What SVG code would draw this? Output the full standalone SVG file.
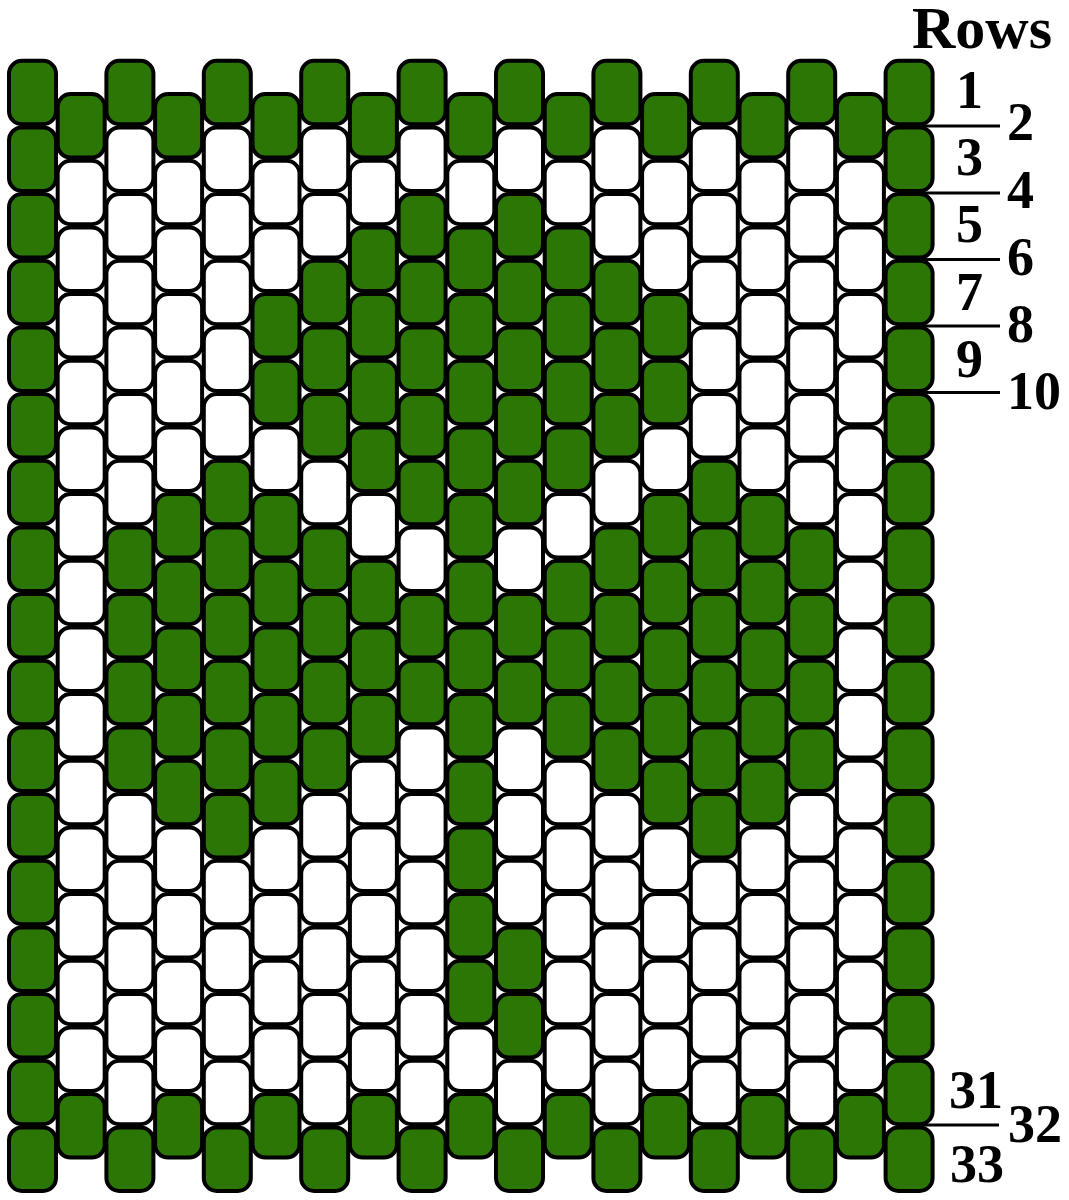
<svg xmlns="http://www.w3.org/2000/svg" xmlns:xlink="http://www.w3.org/1999/xlink" width="1069" height="1200" viewBox="0 0 1069 1200">
<style>
.g{fill:#2b7604}
.w{fill:#ffffff}
text{font-family:"Liberation Serif","Times New Roman",serif;font-weight:bold;fill:#000}
.lab{font-size:54px}
.ttl{font-size:60px}
.tick{stroke:#000;stroke-width:3}
</style>
<defs>
<rect id="bead" x="-23.5" y="-0.25" width="47" height="63.5" rx="13" ry="13" stroke="#000" stroke-width="4"/>
</defs>
<rect width="1069" height="1200" fill="#fff"/>
<g id="beads">
<g id="col0" transform="translate(32.5,0)">
<use href="#bead" y="61" class="g"/><use href="#bead" y="127.67" class="g"/><use href="#bead" y="194.33" class="g"/><use href="#bead" y="261" class="g"/><use href="#bead" y="327.67" class="g"/><use href="#bead" y="394.33" class="g"/><use href="#bead" y="461" class="g"/><use href="#bead" y="527.67" class="g"/><use href="#bead" y="594.33" class="g"/><use href="#bead" y="661" class="g"/><use href="#bead" y="727.67" class="g"/><use href="#bead" y="794.33" class="g"/><use href="#bead" y="861" class="g"/><use href="#bead" y="927.67" class="g"/><use href="#bead" y="994.33" class="g"/><use href="#bead" y="1061" class="g"/><use href="#bead" y="1127.67" class="g"/>
</g>
<g id="col1" transform="translate(81.2,0)">
<use href="#bead" y="94.33" class="g"/><use href="#bead" y="161" class="w"/><use href="#bead" y="227.67" class="w"/><use href="#bead" y="294.33" class="w"/><use href="#bead" y="361" class="w"/><use href="#bead" y="427.67" class="w"/><use href="#bead" y="494.33" class="w"/><use href="#bead" y="561" class="w"/><use href="#bead" y="627.67" class="w"/><use href="#bead" y="694.33" class="w"/><use href="#bead" y="761" class="w"/><use href="#bead" y="827.67" class="w"/><use href="#bead" y="894.33" class="w"/><use href="#bead" y="961" class="w"/><use href="#bead" y="1027.67" class="w"/><use href="#bead" y="1094.33" class="g"/>
</g>
<g id="col2" transform="translate(129.9,0)">
<use href="#bead" y="61" class="g"/><use href="#bead" y="127.67" class="w"/><use href="#bead" y="194.33" class="w"/><use href="#bead" y="261" class="w"/><use href="#bead" y="327.67" class="w"/><use href="#bead" y="394.33" class="w"/><use href="#bead" y="461" class="w"/><use href="#bead" y="527.67" class="g"/><use href="#bead" y="594.33" class="g"/><use href="#bead" y="661" class="g"/><use href="#bead" y="727.67" class="g"/><use href="#bead" y="794.33" class="w"/><use href="#bead" y="861" class="w"/><use href="#bead" y="927.67" class="w"/><use href="#bead" y="994.33" class="w"/><use href="#bead" y="1061" class="w"/><use href="#bead" y="1127.67" class="g"/>
</g>
<g id="col3" transform="translate(178.6,0)">
<use href="#bead" y="94.33" class="g"/><use href="#bead" y="161" class="w"/><use href="#bead" y="227.67" class="w"/><use href="#bead" y="294.33" class="w"/><use href="#bead" y="361" class="w"/><use href="#bead" y="427.67" class="w"/><use href="#bead" y="494.33" class="g"/><use href="#bead" y="561" class="g"/><use href="#bead" y="627.67" class="g"/><use href="#bead" y="694.33" class="g"/><use href="#bead" y="761" class="g"/><use href="#bead" y="827.67" class="w"/><use href="#bead" y="894.33" class="w"/><use href="#bead" y="961" class="w"/><use href="#bead" y="1027.67" class="w"/><use href="#bead" y="1094.33" class="g"/>
</g>
<g id="col4" transform="translate(227.3,0)">
<use href="#bead" y="61" class="g"/><use href="#bead" y="127.67" class="w"/><use href="#bead" y="194.33" class="w"/><use href="#bead" y="261" class="w"/><use href="#bead" y="327.67" class="w"/><use href="#bead" y="394.33" class="w"/><use href="#bead" y="461" class="g"/><use href="#bead" y="527.67" class="g"/><use href="#bead" y="594.33" class="g"/><use href="#bead" y="661" class="g"/><use href="#bead" y="727.67" class="g"/><use href="#bead" y="794.33" class="g"/><use href="#bead" y="861" class="w"/><use href="#bead" y="927.67" class="w"/><use href="#bead" y="994.33" class="w"/><use href="#bead" y="1061" class="w"/><use href="#bead" y="1127.67" class="g"/>
</g>
<g id="col5" transform="translate(276,0)">
<use href="#bead" y="94.33" class="g"/><use href="#bead" y="161" class="w"/><use href="#bead" y="227.67" class="w"/><use href="#bead" y="294.33" class="g"/><use href="#bead" y="361" class="g"/><use href="#bead" y="427.67" class="w"/><use href="#bead" y="494.33" class="g"/><use href="#bead" y="561" class="g"/><use href="#bead" y="627.67" class="g"/><use href="#bead" y="694.33" class="g"/><use href="#bead" y="761" class="g"/><use href="#bead" y="827.67" class="w"/><use href="#bead" y="894.33" class="w"/><use href="#bead" y="961" class="w"/><use href="#bead" y="1027.67" class="w"/><use href="#bead" y="1094.33" class="g"/>
</g>
<g id="col6" transform="translate(324.7,0)">
<use href="#bead" y="61" class="g"/><use href="#bead" y="127.67" class="w"/><use href="#bead" y="194.33" class="w"/><use href="#bead" y="261" class="g"/><use href="#bead" y="327.67" class="g"/><use href="#bead" y="394.33" class="g"/><use href="#bead" y="461" class="w"/><use href="#bead" y="527.67" class="g"/><use href="#bead" y="594.33" class="g"/><use href="#bead" y="661" class="g"/><use href="#bead" y="727.67" class="g"/><use href="#bead" y="794.33" class="w"/><use href="#bead" y="861" class="w"/><use href="#bead" y="927.67" class="w"/><use href="#bead" y="994.33" class="w"/><use href="#bead" y="1061" class="w"/><use href="#bead" y="1127.67" class="g"/>
</g>
<g id="col7" transform="translate(373.4,0)">
<use href="#bead" y="94.33" class="g"/><use href="#bead" y="161" class="w"/><use href="#bead" y="227.67" class="g"/><use href="#bead" y="294.33" class="g"/><use href="#bead" y="361" class="g"/><use href="#bead" y="427.67" class="g"/><use href="#bead" y="494.33" class="w"/><use href="#bead" y="561" class="g"/><use href="#bead" y="627.67" class="g"/><use href="#bead" y="694.33" class="g"/><use href="#bead" y="761" class="w"/><use href="#bead" y="827.67" class="w"/><use href="#bead" y="894.33" class="w"/><use href="#bead" y="961" class="w"/><use href="#bead" y="1027.67" class="w"/><use href="#bead" y="1094.33" class="g"/>
</g>
<g id="col8" transform="translate(422.1,0)">
<use href="#bead" y="61" class="g"/><use href="#bead" y="127.67" class="w"/><use href="#bead" y="194.33" class="g"/><use href="#bead" y="261" class="g"/><use href="#bead" y="327.67" class="g"/><use href="#bead" y="394.33" class="g"/><use href="#bead" y="461" class="g"/><use href="#bead" y="527.67" class="w"/><use href="#bead" y="594.33" class="g"/><use href="#bead" y="661" class="g"/><use href="#bead" y="727.67" class="w"/><use href="#bead" y="794.33" class="w"/><use href="#bead" y="861" class="w"/><use href="#bead" y="927.67" class="w"/><use href="#bead" y="994.33" class="w"/><use href="#bead" y="1061" class="w"/><use href="#bead" y="1127.67" class="g"/>
</g>
<g id="col9" transform="translate(470.8,0)">
<use href="#bead" y="94.33" class="g"/><use href="#bead" y="161" class="w"/><use href="#bead" y="227.67" class="g"/><use href="#bead" y="294.33" class="g"/><use href="#bead" y="361" class="g"/><use href="#bead" y="427.67" class="g"/><use href="#bead" y="494.33" class="g"/><use href="#bead" y="561" class="g"/><use href="#bead" y="627.67" class="g"/><use href="#bead" y="694.33" class="g"/><use href="#bead" y="761" class="g"/><use href="#bead" y="827.67" class="g"/><use href="#bead" y="894.33" class="g"/><use href="#bead" y="961" class="g"/><use href="#bead" y="1027.67" class="w"/><use href="#bead" y="1094.33" class="g"/>
</g>
<g id="col10" transform="translate(519.5,0)">
<use href="#bead" y="61" class="g"/><use href="#bead" y="127.67" class="w"/><use href="#bead" y="194.33" class="g"/><use href="#bead" y="261" class="g"/><use href="#bead" y="327.67" class="g"/><use href="#bead" y="394.33" class="g"/><use href="#bead" y="461" class="g"/><use href="#bead" y="527.67" class="w"/><use href="#bead" y="594.33" class="g"/><use href="#bead" y="661" class="g"/><use href="#bead" y="727.67" class="w"/><use href="#bead" y="794.33" class="w"/><use href="#bead" y="861" class="w"/><use href="#bead" y="927.67" class="g"/><use href="#bead" y="994.33" class="g"/><use href="#bead" y="1061" class="w"/><use href="#bead" y="1127.67" class="g"/>
</g>
<g id="col11" transform="translate(568.2,0)">
<use href="#bead" y="94.33" class="g"/><use href="#bead" y="161" class="w"/><use href="#bead" y="227.67" class="g"/><use href="#bead" y="294.33" class="g"/><use href="#bead" y="361" class="g"/><use href="#bead" y="427.67" class="g"/><use href="#bead" y="494.33" class="w"/><use href="#bead" y="561" class="g"/><use href="#bead" y="627.67" class="g"/><use href="#bead" y="694.33" class="g"/><use href="#bead" y="761" class="w"/><use href="#bead" y="827.67" class="w"/><use href="#bead" y="894.33" class="w"/><use href="#bead" y="961" class="w"/><use href="#bead" y="1027.67" class="w"/><use href="#bead" y="1094.33" class="g"/>
</g>
<g id="col12" transform="translate(616.9,0)">
<use href="#bead" y="61" class="g"/><use href="#bead" y="127.67" class="w"/><use href="#bead" y="194.33" class="w"/><use href="#bead" y="261" class="g"/><use href="#bead" y="327.67" class="g"/><use href="#bead" y="394.33" class="g"/><use href="#bead" y="461" class="w"/><use href="#bead" y="527.67" class="g"/><use href="#bead" y="594.33" class="g"/><use href="#bead" y="661" class="g"/><use href="#bead" y="727.67" class="g"/><use href="#bead" y="794.33" class="w"/><use href="#bead" y="861" class="w"/><use href="#bead" y="927.67" class="w"/><use href="#bead" y="994.33" class="w"/><use href="#bead" y="1061" class="w"/><use href="#bead" y="1127.67" class="g"/>
</g>
<g id="col13" transform="translate(665.6,0)">
<use href="#bead" y="94.33" class="g"/><use href="#bead" y="161" class="w"/><use href="#bead" y="227.67" class="w"/><use href="#bead" y="294.33" class="g"/><use href="#bead" y="361" class="g"/><use href="#bead" y="427.67" class="w"/><use href="#bead" y="494.33" class="g"/><use href="#bead" y="561" class="g"/><use href="#bead" y="627.67" class="g"/><use href="#bead" y="694.33" class="g"/><use href="#bead" y="761" class="g"/><use href="#bead" y="827.67" class="w"/><use href="#bead" y="894.33" class="w"/><use href="#bead" y="961" class="w"/><use href="#bead" y="1027.67" class="w"/><use href="#bead" y="1094.33" class="g"/>
</g>
<g id="col14" transform="translate(714.3,0)">
<use href="#bead" y="61" class="g"/><use href="#bead" y="127.67" class="w"/><use href="#bead" y="194.33" class="w"/><use href="#bead" y="261" class="w"/><use href="#bead" y="327.67" class="w"/><use href="#bead" y="394.33" class="w"/><use href="#bead" y="461" class="g"/><use href="#bead" y="527.67" class="g"/><use href="#bead" y="594.33" class="g"/><use href="#bead" y="661" class="g"/><use href="#bead" y="727.67" class="g"/><use href="#bead" y="794.33" class="g"/><use href="#bead" y="861" class="w"/><use href="#bead" y="927.67" class="w"/><use href="#bead" y="994.33" class="w"/><use href="#bead" y="1061" class="w"/><use href="#bead" y="1127.67" class="g"/>
</g>
<g id="col15" transform="translate(763,0)">
<use href="#bead" y="94.33" class="g"/><use href="#bead" y="161" class="w"/><use href="#bead" y="227.67" class="w"/><use href="#bead" y="294.33" class="w"/><use href="#bead" y="361" class="w"/><use href="#bead" y="427.67" class="w"/><use href="#bead" y="494.33" class="g"/><use href="#bead" y="561" class="g"/><use href="#bead" y="627.67" class="g"/><use href="#bead" y="694.33" class="g"/><use href="#bead" y="761" class="g"/><use href="#bead" y="827.67" class="w"/><use href="#bead" y="894.33" class="w"/><use href="#bead" y="961" class="w"/><use href="#bead" y="1027.67" class="w"/><use href="#bead" y="1094.33" class="g"/>
</g>
<g id="col16" transform="translate(811.7,0)">
<use href="#bead" y="61" class="g"/><use href="#bead" y="127.67" class="w"/><use href="#bead" y="194.33" class="w"/><use href="#bead" y="261" class="w"/><use href="#bead" y="327.67" class="w"/><use href="#bead" y="394.33" class="w"/><use href="#bead" y="461" class="w"/><use href="#bead" y="527.67" class="g"/><use href="#bead" y="594.33" class="g"/><use href="#bead" y="661" class="g"/><use href="#bead" y="727.67" class="g"/><use href="#bead" y="794.33" class="w"/><use href="#bead" y="861" class="w"/><use href="#bead" y="927.67" class="w"/><use href="#bead" y="994.33" class="w"/><use href="#bead" y="1061" class="w"/><use href="#bead" y="1127.67" class="g"/>
</g>
<g id="col17" transform="translate(860.4,0)">
<use href="#bead" y="94.33" class="g"/><use href="#bead" y="161" class="w"/><use href="#bead" y="227.67" class="w"/><use href="#bead" y="294.33" class="w"/><use href="#bead" y="361" class="w"/><use href="#bead" y="427.67" class="w"/><use href="#bead" y="494.33" class="w"/><use href="#bead" y="561" class="w"/><use href="#bead" y="627.67" class="w"/><use href="#bead" y="694.33" class="w"/><use href="#bead" y="761" class="w"/><use href="#bead" y="827.67" class="w"/><use href="#bead" y="894.33" class="w"/><use href="#bead" y="961" class="w"/><use href="#bead" y="1027.67" class="w"/><use href="#bead" y="1094.33" class="g"/>
</g>
<g id="col18" transform="translate(909.1,0)">
<use href="#bead" y="61" class="g"/><use href="#bead" y="127.67" class="g"/><use href="#bead" y="194.33" class="g"/><use href="#bead" y="261" class="g"/><use href="#bead" y="327.67" class="g"/><use href="#bead" y="394.33" class="g"/><use href="#bead" y="461" class="g"/><use href="#bead" y="527.67" class="g"/><use href="#bead" y="594.33" class="g"/><use href="#bead" y="661" class="g"/><use href="#bead" y="727.67" class="g"/><use href="#bead" y="794.33" class="g"/><use href="#bead" y="861" class="g"/><use href="#bead" y="927.67" class="g"/><use href="#bead" y="994.33" class="g"/><use href="#bead" y="1061" class="g"/><use href="#bead" y="1127.67" class="g"/>
</g>
</g>
<g id="row-ticks">
<line class="tick" x1="922" y1="126" x2="1000" y2="126"/>
<line class="tick" x1="922" y1="193" x2="1000" y2="193"/>
<line class="tick" x1="922" y1="259.5" x2="1000" y2="259.5"/>
<line class="tick" x1="922" y1="326" x2="1000" y2="326"/>
<line class="tick" x1="922" y1="392.5" x2="1000" y2="392.5"/>
<line class="tick" x1="922" y1="1125" x2="999" y2="1125"/>
</g>
<g id="labels">
<text class="ttl" x="912" y="48">Rows</text>
<text class="lab" x="956" y="108">1</text>
<text class="lab" x="1007" y="140">2</text>
<text class="lab" x="956" y="175">3</text>
<text class="lab" x="1007" y="208">4</text>
<text class="lab" x="956" y="242">5</text>
<text class="lab" x="1007" y="275">6</text>
<text class="lab" x="956" y="310">7</text>
<text class="lab" x="1007" y="342">8</text>
<text class="lab" x="956" y="377">9</text>
<text class="lab" x="1007" y="409">10</text>
<text class="lab" x="949" y="1108">31</text>
<text class="lab" x="1008" y="1142">32</text>
<text class="lab" x="950" y="1182">33</text>
</g>
</svg>
